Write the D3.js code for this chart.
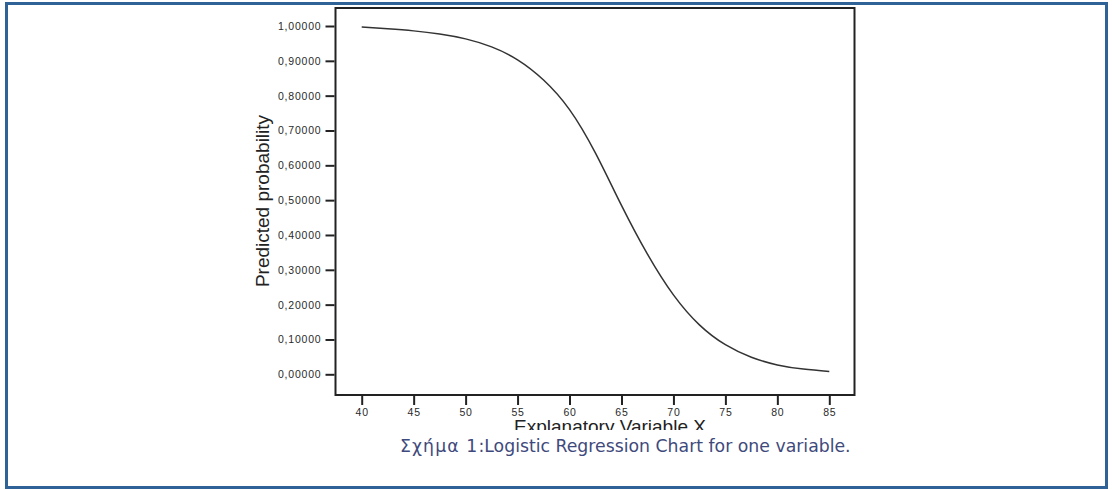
<!DOCTYPE html>
<html>
<head>
<meta charset="utf-8">
<script src="https://cdn.jsdelivr.net/npm/d3@7"></script>
<style>
  body { margin: 0; background: #fff; }
  svg { display: block; }
</style>
</head>
<body>
<svg id="chart" width="1112" height="490"></svg>
<script>
// values
var xValues = [40, 42.5, 45, 47.5, 50, 52.5, 55, 57.5, 60, 62.5, 65, 67.5, 70, 72.5, 75, 77.5, 80, 82.5, 85];
var probValues = [0.997, 0.992, 0.986, 0.977, 0.963, 0.940, 0.903, 0.845, 0.760, 0.635, 0.485, 0.345, 0.228, 0.142, 0.085, 0.049, 0.027, 0.015, 0.008];
var xTicks = [40, 45, 50, 55, 60, 65, 70, 75, 80, 85];
var yTicks = [0, 0.1, 0.2, 0.3, 0.4, 0.5, 0.6, 0.7, 0.8, 0.9, 1.0];

var svg = d3.select("#chart");

// page frame
svg.append("rect")
  .attr("x", 6.5)
  .attr("y", 3.5)
  .attr("width", 1100)
  .attr("height", 484)
  .attr("fill", "none")
  .attr("stroke", "#2f6296")
  .attr("stroke-width", 3);

var x = d3.scaleLinear().domain([40, 85]).range([361.7, 829.3]);
var y = d3.scaleLinear().domain([0, 1]).range([374.3, 26]);

var fmt = function(v) {
  return d3.format(".5f")(v).replace(".", ",");
};

// the figure image is cut just under the x title
svg.append("clipPath")
  .attr("id", "figclip")
  .append("rect")
  .attr("x", 0)
  .attr("y", 0)
  .attr("width", 1112)
  .attr("height", 430);

var fig = svg.append("g").attr("clip-path", "url(#figclip)");

// plot box
fig.append("rect")
  .attr("x", 335.5)
  .attr("y", 8)
  .attr("width", 519)
  .attr("height", 387)
  .attr("fill", "#fff")
  .attr("stroke", "#222")
  .attr("stroke-width", 2);

// x title sits under the tick labels
fig.append("text")
  .attr("x", 610)
  .attr("y", 433)
  .attr("text-anchor", "middle")
  .attr("fill", "#222")
  .style("font-family", "Liberation Sans, Arial, sans-serif")
  .style("font-size", "19px")
  .text("Explanatory Variable X");

var yAxis = fig.append("g")
  .attr("transform", "translate(334.5,0)")
  .call(d3.axisLeft(y).tickValues(yTicks).tickFormat(fmt).tickSize(9).tickPadding(4));

var xAxis = fig.append("g")
  .attr("transform", "translate(0,396)")
  .call(d3.axisBottom(x).tickValues(xTicks).tickSize(9).tickPadding(4));

[yAxis, xAxis].forEach(function(ax) {
  ax.select(".domain").remove();
  ax.selectAll(".tick line").attr("stroke", "#222").attr("stroke-width", 2);
  ax.selectAll(".tick text")
    .attr("fill", "#2a2a2a")
    .style("font-family", "Liberation Sans, Arial, sans-serif")
    .style("font-size", "10.5px")
    .style("letter-spacing", "0.8px");
});

fig.append("text")
  .attr("transform", "translate(269,201) rotate(-90)")
  .attr("text-anchor", "middle")
  .attr("fill", "#222")
  .style("font-family", "Liberation Sans, Arial, sans-serif")
  .style("font-size", "19px")
  .text("Predicted probability");

// curve
var pts = xValues.map(function(v, i) { return [v, probValues[i]]; });
var line = d3.line()
  .x(function(d) { return x(d[0]); })
  .y(function(d) { return y(d[1]); })
  .curve(d3.curveNatural);

fig.append("path")
  .datum(pts)
  .attr("d", line)
  .attr("fill", "none")
  .attr("stroke", "#333")
  .attr("stroke-width", 1.5);

// caption
var cap = svg.append("text")
  .attr("x", 400)
  .attr("y", 452)
  .attr("fill", "#3f4a7c")
  .style("font-family", "DejaVu Sans, sans-serif")
  .style("font-size", "17.3px");
cap.append("tspan").style("letter-spacing", "1.1px").text("Σχήμα 1");
cap.append("tspan").text(":Logistic Regression Chart for one variable.");
</script>
</body>
</html>
